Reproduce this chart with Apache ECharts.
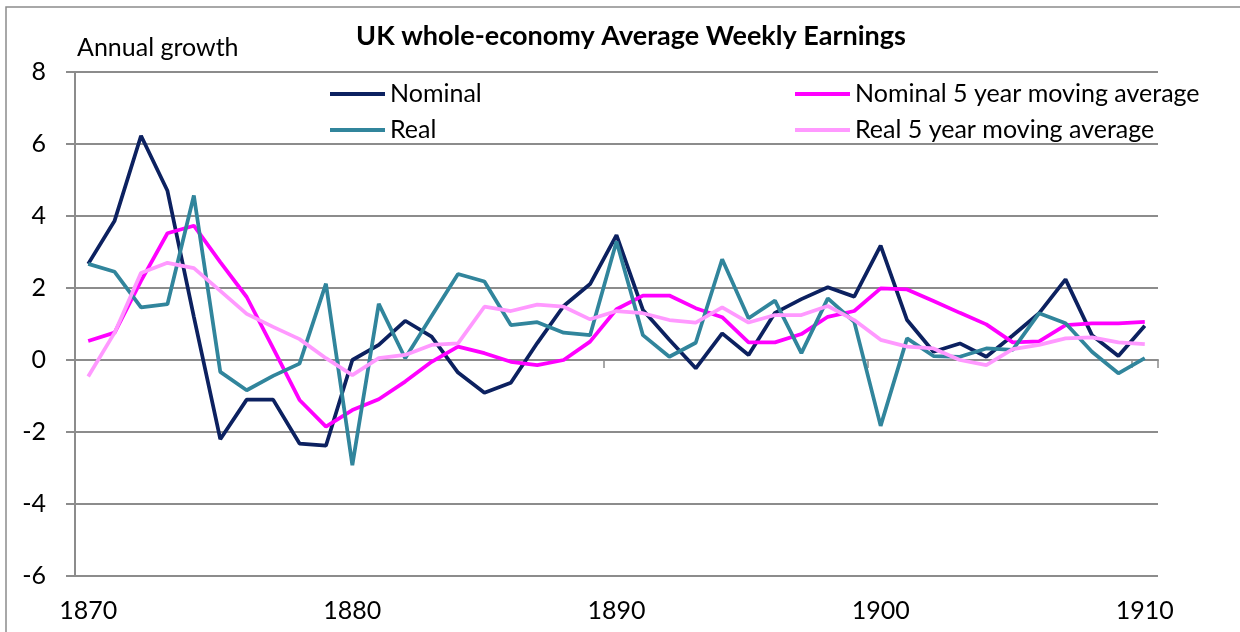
<!DOCTYPE html>
<html>
<head>
<meta charset="utf-8">
<title>UK whole-economy Average Weekly Earnings</title>
<script src="https://cdn.jsdelivr.net/npm/echarts@6/dist/echarts.min.js"></script>
<style>
  html, body { margin: 0; padding: 0; background: #fff; }
  #chart { width: 1240px; height: 632px; }
</style>
</head>
<body>
<div id="chart"></div>
<script>
// 연도 (1870 ~ 1910)
const years = [];
for (let y = 1870; y <= 1910; y++) years.push(String(y));

const nominal = [
  2.67, 3.87, 6.23, 4.70, 1.20, -2.20, -1.10, -1.10, -2.32, -2.38,
  0.00, 0.42, 1.09, 0.65, -0.35, -0.91, -0.63, 0.47, 1.50, 2.11,
  3.47, 1.39, 0.56, -0.23, 0.74, 0.14, 1.31, 1.69, 2.02, 1.76,
  3.18, 1.11, 0.23, 0.46, 0.09, 0.68, 1.30, 2.24, 0.69, 0.11,
  0.95
];
const real = [
  2.67, 2.45, 1.46, 1.55, 4.57, -0.33, -0.84, -0.44, -0.10, 2.12,
  -2.92, 1.56, 0.05, 1.22, 2.39, 2.18, 0.97, 1.05, 0.76, 0.69,
  3.29, 0.69, 0.09, 0.48, 2.80, 1.16, 1.65, 0.19, 1.71, 1.06,
  -1.83, 0.60, 0.11, 0.09, 0.32, 0.28, 1.30, 1.02, 0.23, -0.37,
  0.05
];
const nominalMA = [
  0.53, 0.76, 2.20, 3.52, 3.73, 2.72, 1.75, 0.33, -1.11, -1.85,
  -1.39, -1.09, -0.60, -0.05, 0.37, 0.19, -0.05, -0.14, 0.00, 0.51,
  1.41, 1.79, 1.79, 1.44, 1.19, 0.49, 0.49, 0.72, 1.20, 1.36,
  1.99, 1.96, 1.64, 1.31, 0.99, 0.49, 0.52, 0.97, 1.02, 1.02,
  1.06
];
const realMA = [
  -0.46, 0.76, 2.42, 2.70, 2.55, 1.92, 1.28, 0.92, 0.58, 0.05,
  -0.42, 0.05, 0.14, 0.42, 0.46, 1.48, 1.36, 1.54, 1.48, 1.13,
  1.36, 1.30, 1.11, 1.04, 1.46, 1.04, 1.25, 1.25, 1.50, 1.11,
  0.56, 0.37, 0.32, 0.00, -0.14, 0.30, 0.42, 0.60, 0.63, 0.49,
  0.44
];

const FONT = 'Lato, "Open Sans", sans-serif';
const FONT_SIZE = 25;
const GREY = '#8c8c8c';

const colors = {
  nominal: '#0c2160',
  real: '#31859c',
  nominalMA: '#ff00ff',
  realMA: '#ff99ff'
};

const chart = echarts.init(document.getElementById('chart'));

const lineSeries = (name, data, color) => ({
  name,
  type: 'line',
  data,
  xAxisIndex: 0,
  symbol: 'none',
  animation: false,
  lineStyle: { color, width: 3.75 },
  itemStyle: { color }
});

const legendBase = {
  orient: 'vertical',
  icon: 'rect',
  padding: 0,
  itemWidth: 55,
  itemHeight: 4,
  itemGap: 10,
  textStyle: { fontFamily: FONT, fontSize: FONT_SIZE, color: '#000', lineHeight: 26 }
};

chart.setOption({
  backgroundColor: '#fff',
  animation: false,
  graphic: [
    {
      type: 'rect',
      shape: { x: 6, y: 7, width: 1400, height: 800 },
      style: { fill: 'none', stroke: GREY, lineWidth: 1.5 },
      silent: true
    },
    {
      type: 'text',
      x: 631,
      y: 36,
      style: {
        text: 'UK whole-economy Average Weekly Earnings',
        font: 'bold 27px ' + FONT,
        fill: '#000',
        textAlign: 'center',
        textVerticalAlign: 'middle'
      }
    }
  ],
  legend: [
    Object.assign({}, legendBase, { left: 330, top: 81, data: ['Nominal', 'Real'] }),
    Object.assign({}, legendBase, { left: 795, top: 81, data: ['Nominal 5 year moving average', 'Real 5 year moving average'] })
  ],
  grid: { left: 75, right: 82, top: 72, bottom: 56, containLabel: false },
  xAxis: [
    {
      type: 'category',
      data: years,
      boundaryGap: true,
      axisLine: { show: false, onZero: false },
      axisTick: { show: false },
      axisLabel: {
        interval: 9,
        margin: 22,
        fontFamily: FONT,
        fontSize: FONT_SIZE,
        color: '#000'
      },
      splitLine: { show: false }
    },
    {
      // 0 기준선 위의 눈금만 표시
      type: 'category',
      data: years,
      boundaryGap: true,
      position: 'bottom',
      axisLine: { show: true, onZero: true, lineStyle: { color: GREY, width: 2 } },
      axisTick: { show: true, interval: 9, length: 8, lineStyle: { color: GREY, width: 1.5 } },
      axisLabel: { show: false },
      splitLine: { show: false }
    }
  ],
  yAxis: {
    type: 'value',
    min: -6,
    max: 8,
    interval: 2,
    name: 'Annual growth',
    nameLocation: 'end',
    nameGap: 24,
    nameTextStyle: {
      fontFamily: FONT,
      fontSize: FONT_SIZE,
      color: '#000',
      align: 'left',
      verticalAlign: 'middle',
      padding: [0, 0, 0, 2]
    },
    axisLine: { show: true, lineStyle: { color: GREY, width: 2 } },
    axisTick: { show: true, length: 9, lineStyle: { color: GREY, width: 2 } },
    axisLabel: { margin: 29, fontFamily: FONT, fontSize: FONT_SIZE, color: '#000' },
    splitLine: { show: true, lineStyle: { color: GREY, width: 2 } }
  },
  series: [
    lineSeries('Nominal', nominal, colors.nominal),
    lineSeries('Nominal 5 year moving average', nominalMA, colors.nominalMA),
    lineSeries('Real', real, colors.real),
    lineSeries('Real 5 year moving average', realMA, colors.realMA)
  ]
});
</script>
</body>
</html>
